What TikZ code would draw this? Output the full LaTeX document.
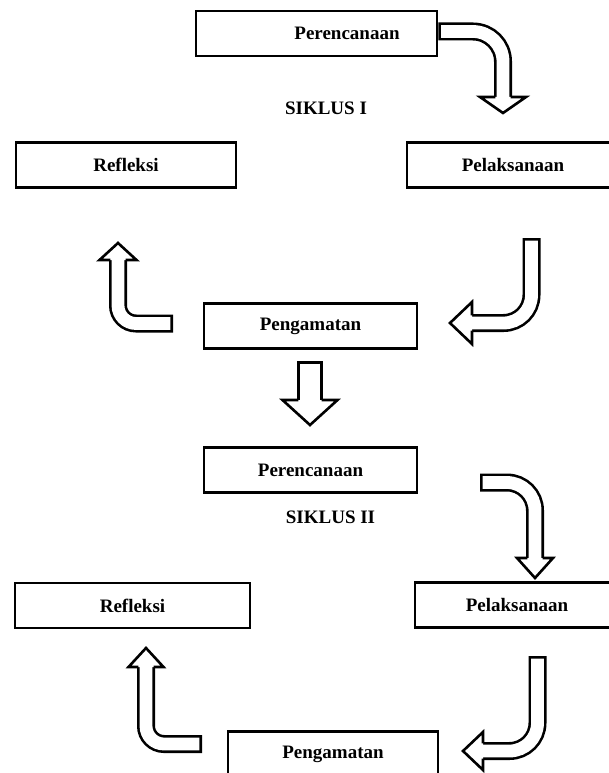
\documentclass[tikz,border=0pt]{standalone}
\usepackage{fontspec}
\setmainfont{Liberation Serif}
\usetikzlibrary{calc}

\tikzset{
	box/.style={draw, line width=2.8pt, minimum height=45pt, inner sep=0pt,
		font=\bfseries\fontsize{19}{22}\selectfont},
	cyc/.style={font=\bfseries\fontsize{19}{22}\selectfont}
}
% shaft of a block arrow: outer width, radius, path
\newcommand{\blockshaft}[3]{%
	\draw[line width=#1, rounded corners=#2] #3;
	\draw[white, line width=#1-5.2pt, rounded corners=#2, shorten <=2.6pt] #3;}
% head of a block arrow: base, angle, shaft half width, head half width, length
\newcommand{\blockhead}[5]{%
	\filldraw[fill=white, line width=2.6pt, line join=miter, shift={(#1)}, rotate=#2]
		(0,#3) -- (0,#4) -- (#5,0) -- (0,-#4) -- (0,-#3);}

\begin{document}
\begin{tikzpicture}[x=1pt,y=-1pt]
	\useasboundingbox (0,0) rectangle (609,773);
	% siklus I
	\node[box, minimum width=241pt] (per1) at (316.5,33.5) {\hspace*{61pt}Perencanaan};
	\node[cyc] (sik1) at (326,108) {SIKLUS I};
	\node[box, minimum width=220pt] (ref1) at (126,165) {Refleksi};
	\node[box, minimum width=212pt] (pel1) at (513,165) {Pelaksanaan};
	\node[box, minimum width=213pt] (pen1) at (310.5,326) {Pengamatan};
	% siklus II
	\node[box, minimum width=213pt] (per2) at (310.5,470) {Perencanaan};
	\node[cyc] (sik2) at (330.5,517) {SIKLUS II};
	\node[box, minimum width=235pt] (ref2) at (132.5,605.5) {Refleksi};
	\node[box, minimum width=204pt] (pel2) at (517,605) {Pelaksanaan};
	\node[box, minimum width=210pt] (pen2) at (333,754) {Pengamatan};

	% arrows of siklus I
	\coordinate (tA) at (per1.east |- 0,31.5);
	\coordinate (hA) at (503,97);
	\blockshaft{18pt}{30pt}{(tA) -- (503,31.5) -- (hA)}
	\blockhead{hA}{-90}{7.7}{23}{16}
	\coordinate (tB) at (531.5,238);
	\coordinate (hB) at (472,323);
	\blockshaft{18pt}{28pt}{(tB) -- (531.5,323) -- (hB)}
	\blockhead{hB}{180}{7.7}{21}{22}
	\coordinate (tC) at (173,323.5);
	\coordinate (hC) at (118,260);
	\blockshaft{18pt}{18pt}{(tC) -- (118,323.5) -- (hC)}
	\blockhead{hC}{90}{7.7}{18.5}{17}
	% from siklus I to siklus II
	\coordinate (tD) at (310,361);
	\coordinate (hD) at (310,400);
	\blockshaft{26pt}{0pt}{(tD) -- (hD)}
	\blockhead{hD}{-90}{11.7}{27.5}{25}

	% arrows of siklus II
	\coordinate (tE) at (480,482.5);
	\coordinate (hE) at (535,558);
	\blockshaft{18pt}{28pt}{(tE) -- (535,482.5) -- (hE)}
	\blockhead{hE}{-90}{7.7}{18}{20}
	\coordinate (tF) at (537.5,656);
	\coordinate (hF) at (483,751);
	\blockshaft{18pt}{28pt}{(tF) -- (537.5,751) -- (hF)}
	\blockhead{hF}{180}{7.7}{19}{20}
	\coordinate (tG) at (202,744);
	\coordinate (hG) at (146,667);
	\blockshaft{18pt}{18pt}{(tG) -- (146,744) -- (hG)}
	\blockhead{hG}{90}{7.7}{17.5}{19}
\end{tikzpicture}
\end{document}
